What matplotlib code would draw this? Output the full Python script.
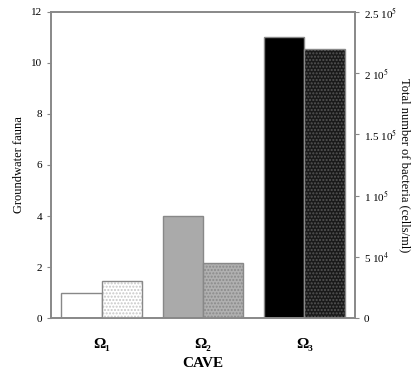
import matplotlib.pyplot as plt
import numpy as np

caves = ['Ω₁', 'Ω₂', 'Ω₃']
fauna = [1.0, 4.0, 11.0]
bacteria = [3.0e4, 4.5e4, 2.2e5]
fauna_colors = ['white', '#aaaaaa', 'black']
bact_colors = ['white', '#b0b0b0', '#1a1a1a']
dot_colors = ['#c8c8c8', '#8a8a8a', '#555555']
right_ticks = [0, 5e4, 1e5, 1.5e5, 2e5, 2.5e5]
right_labels = ['0', '5 10$^4$', '1 10$^5$', '1.5 10$^5$', '2 10$^5$', '2.5 10$^5$']

plt.rcParams['font.family'] = ['Liberation Serif', 'DejaVu Serif']
plt.rcParams['mathtext.fontset'] = 'stix'
plt.rcParams['hatch.linewidth'] = 1.0

fig = plt.figure(figsize=(4.16, 3.72), dpi=100)
ax = fig.add_axes([0.123, 0.145, 0.73, 0.823])
ax2 = ax.twinx()

x = np.arange(len(caves))
w = 0.4
edge = '#888888'

ax.bar(x - w / 2, fauna, w, color=fauna_colors, edgecolor=edge, linewidth=1.0)
ax.set_ylim(0, 12)
ax.set_xlim(-0.5, 2.5)

ax2.bar(x + w / 2, bacteria, w, color=bact_colors, edgecolor=dot_colors,
        hatch='.....', linewidth=0)
ax2.bar(x + w / 2, bacteria, w, fill=False, edgecolor=edge, linewidth=1.0)
ax2.set_ylim(0, 2.5e5)

ax.set_yticks(range(0, 13, 2))
ax2.set_yticks(right_ticks)
ax2.set_yticklabels(right_labels)
ax.set_xticks(x)
ax.set_xticklabels(caves, fontsize=11, fontweight='bold')
ax.tick_params(axis='x', length=0, pad=14)

for a in (ax, ax2):
    for s in a.spines.values():
        s.set_color(edge)
        s.set_linewidth(1.2)
    a.tick_params(axis='y', labelsize=8, color=edge, length=3, width=0.8)

ax.set_ylabel('Groundwater fauna', fontsize=9)
ax2.set_ylabel('Total number of bacteria (cells/ml)', fontsize=9, rotation=270, labelpad=10)
ax.set_xlabel('CAVE', fontsize=11, fontweight='bold', labelpad=5)

fig.savefig('out.png', dpi=100)
